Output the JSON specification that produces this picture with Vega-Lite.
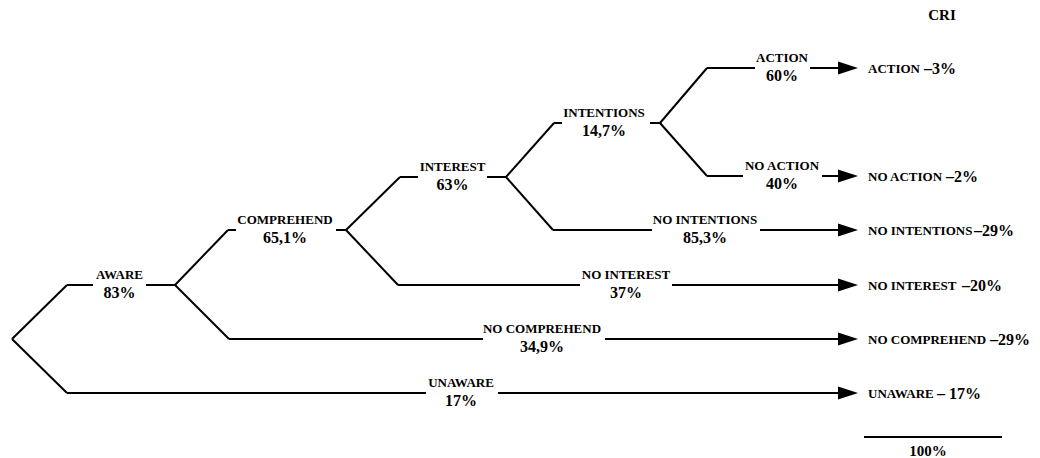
{
  "$schema": "https://vega.github.io/schema/vega-lite/v6.json",
  "width": 1040,
  "height": 458,
  "autosize": {"type": "none"},
  "padding": 0,
  "background": "white",
  "config": {"view": {"stroke": null}},
  "datasets": {
    "segs": [
      {"x": 12, "y": 339, "x2": 67, "y2": 285},
      {"x": 12, "y": 339, "x2": 67, "y2": 393},
      {"x": 67, "y": 285, "x2": 93, "y2": 285},
      {"x": 146, "y": 285, "x2": 175, "y2": 285},
      {"x": 175, "y": 285, "x2": 228, "y2": 230},
      {"x": 175, "y": 285, "x2": 229, "y2": 339},
      {"x": 228, "y": 230, "x2": 236, "y2": 230},
      {"x": 336, "y": 230, "x2": 346, "y2": 230},
      {"x": 346, "y": 230, "x2": 400, "y2": 177},
      {"x": 346, "y": 230, "x2": 398, "y2": 285},
      {"x": 400, "y": 177, "x2": 418, "y2": 177},
      {"x": 487, "y": 177, "x2": 506, "y2": 177},
      {"x": 506, "y": 177, "x2": 554, "y2": 123},
      {"x": 506, "y": 177, "x2": 553, "y2": 230},
      {"x": 554, "y": 123, "x2": 562, "y2": 123},
      {"x": 650, "y": 123, "x2": 660, "y2": 123},
      {"x": 660, "y": 123, "x2": 707, "y2": 68},
      {"x": 660, "y": 123, "x2": 707, "y2": 176},
      {"x": 707, "y": 68, "x2": 755, "y2": 68},
      {"x": 810, "y": 68, "x2": 840, "y2": 68},
      {"x": 707, "y": 176, "x2": 743, "y2": 176},
      {"x": 822, "y": 176, "x2": 840, "y2": 176},
      {"x": 553, "y": 230, "x2": 652, "y2": 230},
      {"x": 760, "y": 230, "x2": 840, "y2": 230},
      {"x": 398, "y": 285, "x2": 580, "y2": 285},
      {"x": 672, "y": 285, "x2": 840, "y2": 285},
      {"x": 229, "y": 339, "x2": 483, "y2": 339},
      {"x": 605, "y": 339, "x2": 840, "y2": 339},
      {"x": 67, "y": 393, "x2": 426, "y2": 393},
      {"x": 498, "y": 393, "x2": 840, "y2": 393},
      {"x": 864, "y": 437, "x2": 1002, "y2": 437}
    ],
    "nodes": [
      {"x": 119.5, "y": 285, "name": "AWARE", "pct": "83%"},
      {"x": 285, "y": 230, "name": "COMPREHEND", "pct": "65,1%"},
      {"x": 452.5, "y": 177, "name": "INTEREST", "pct": "63%"},
      {"x": 604, "y": 123, "name": "INTENTIONS", "pct": "14,7%"},
      {"x": 782, "y": 68, "name": "ACTION", "pct": "60%"},
      {"x": 782, "y": 176, "name": "NO ACTION", "pct": "40%"},
      {"x": 705, "y": 230, "name": "NO INTENTIONS", "pct": "85,3%"},
      {"x": 626, "y": 285, "name": "NO INTEREST", "pct": "37%"},
      {"x": 542, "y": 339, "name": "NO COMPREHEND", "pct": "34,9%"},
      {"x": 461, "y": 393, "name": "UNAWARE", "pct": "17%"}
    ],
    "finals": [
      {"y": 68, "name": "ACTION", "px": 924, "pct": "–3%"},
      {"y": 176, "name": "NO ACTION", "px": 946, "pct": "–2%"},
      {"y": 230, "name": "NO INTENTIONS", "px": 974, "pct": "–29%"},
      {"y": 285, "name": "NO INTEREST", "px": 962, "pct": "–20%"},
      {"y": 339, "name": "NO COMPREHEND", "px": 990, "pct": "–29%"},
      {"y": 393, "name": "UNAWARE", "px": 937, "pct": "– 17%"}
    ],
    "misc": [
      {"x": 942, "y": 15, "text": "CRI"},
      {"x": 928, "y": 451, "text": "100%"}
    ]
  },
  "layer": [
    {
      "data": {"name": "segs"},
      "mark": {"type": "rule", "color": "black", "strokeWidth": 2},
      "encoding": {
        "x": {"field": "x", "type": "quantitative", "scale": {"domain": [0, 1040], "nice": false, "zero": false}, "axis": null},
        "y": {"field": "y", "type": "quantitative", "scale": {"domain": [0, 458], "nice": false, "zero": false, "reverse": true}, "axis": null},
        "x2": {"field": "x2"},
        "y2": {"field": "y2"}
      }
    },
    {
      "data": {"name": "finals"},
      "mark": {"type": "point", "shape": "M1,0L-1,-0.65L-1,0.65Z", "size": 400, "filled": true, "color": "black", "opacity": 1, "strokeWidth": 0},
      "encoding": {
        "x": {"datum": 848, "type": "quantitative", "scale": {"domain": [0, 1040], "nice": false, "zero": false}, "axis": null},
        "y": {"field": "y", "type": "quantitative", "scale": {"domain": [0, 458], "nice": false, "zero": false, "reverse": true}, "axis": null}
      }
    },
    {
      "data": {"name": "nodes"},
      "mark": {"type": "text", "font": "Liberation Serif", "fontWeight": "bold", "fontSize": 13, "baseline": "alphabetic", "align": "center", "dy": -6, "color": "black"},
      "encoding": {
        "x": {"field": "x", "type": "quantitative", "scale": {"domain": [0, 1040], "nice": false, "zero": false}, "axis": null},
        "y": {"field": "y", "type": "quantitative", "scale": {"domain": [0, 458], "nice": false, "zero": false, "reverse": true}, "axis": null},
        "text": {"field": "name"}
      }
    },
    {
      "data": {"name": "nodes"},
      "mark": {"type": "text", "font": "Liberation Serif", "fontWeight": "bold", "fontSize": 16, "baseline": "alphabetic", "align": "center", "dy": 13, "color": "black"},
      "encoding": {
        "x": {"field": "x", "type": "quantitative", "scale": {"domain": [0, 1040], "nice": false, "zero": false}, "axis": null},
        "y": {"field": "y", "type": "quantitative", "scale": {"domain": [0, 458], "nice": false, "zero": false, "reverse": true}, "axis": null},
        "text": {"field": "pct"}
      }
    },
    {
      "data": {"name": "finals"},
      "mark": {"type": "text", "font": "Liberation Serif", "fontWeight": "bold", "fontSize": 13, "baseline": "alphabetic", "align": "left", "dy": 5, "color": "black"},
      "encoding": {
        "x": {"datum": 868, "type": "quantitative", "scale": {"domain": [0, 1040], "nice": false, "zero": false}, "axis": null},
        "y": {"field": "y", "type": "quantitative", "scale": {"domain": [0, 458], "nice": false, "zero": false, "reverse": true}, "axis": null},
        "text": {"field": "name"}
      }
    },
    {
      "data": {"name": "finals"},
      "mark": {"type": "text", "font": "Liberation Serif", "fontWeight": "bold", "fontSize": 16, "baseline": "alphabetic", "align": "left", "dy": 6, "color": "black"},
      "encoding": {
        "x": {"field": "px", "type": "quantitative", "scale": {"domain": [0, 1040], "nice": false, "zero": false}, "axis": null},
        "y": {"field": "y", "type": "quantitative", "scale": {"domain": [0, 458], "nice": false, "zero": false, "reverse": true}, "axis": null},
        "text": {"field": "pct"}
      }
    },
    {
      "data": {"name": "misc"},
      "mark": {"type": "text", "font": "Liberation Serif", "fontWeight": "bold", "fontSize": 15, "baseline": "middle", "align": "center", "color": "black"},
      "encoding": {
        "x": {"field": "x", "type": "quantitative", "scale": {"domain": [0, 1040], "nice": false, "zero": false}, "axis": null},
        "y": {"field": "y", "type": "quantitative", "scale": {"domain": [0, 458], "nice": false, "zero": false, "reverse": true}, "axis": null},
        "text": {"field": "text"}
      }
    }
  ]
}
